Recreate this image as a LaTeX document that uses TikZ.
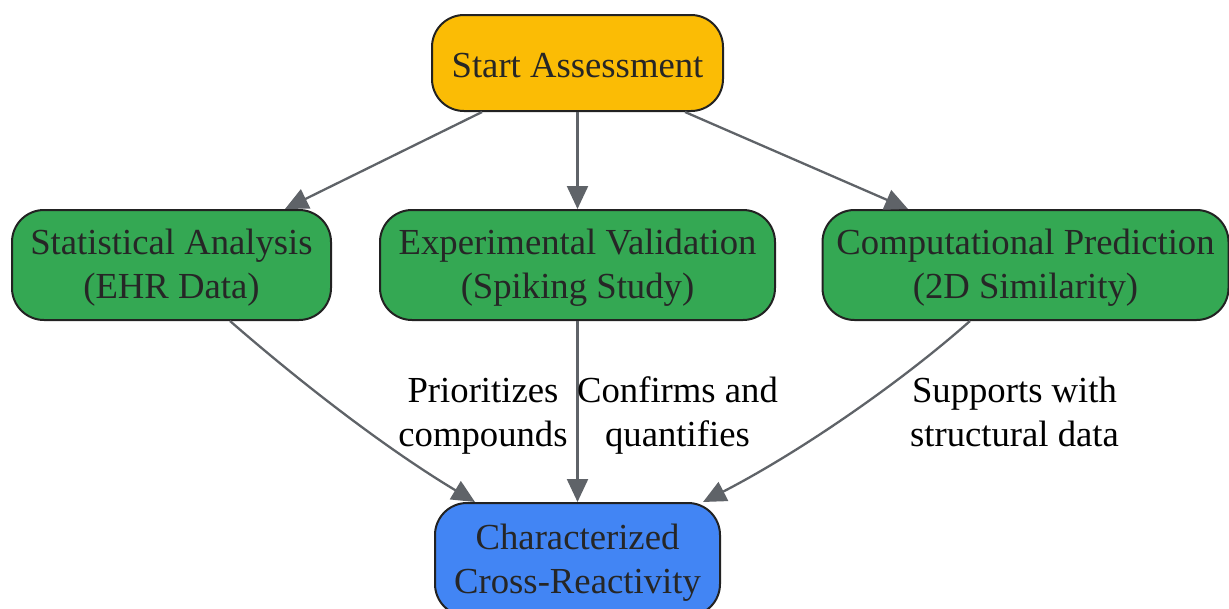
\documentclass[tikz,border=0pt]{standalone}
\usepackage{fontspec}
\setmainfont{Liberation Serif}
\usetikzlibrary{arrows.meta}
\definecolor{gyellow}{HTML}{FBBC05}
\definecolor{ggreen}{HTML}{34A853}
\definecolor{gblue}{HTML}{4285F4}
\definecolor{edgegray}{HTML}{5F6368}
\definecolor{bordergray}{HTML}{222222}
\definecolor{txtgray}{HTML}{262626}
\tikzset{
  box/.style={draw=bordergray, line width=2pt, rounded corners=32pt, inner sep=0pt},
  boxtext/.style={align=center, text=txtgray, font=\fontsize{36.7}{44}\selectfont, inner sep=0pt, yshift=-3pt},
  conn/.style={draw=edgegray, line width=2.3pt, -{Triangle[length=23pt,width=21pt]}},
  lbl/.style={align=center, font=\fontsize{36.7}{44}\selectfont, text=black, inner sep=0pt}
}
\begin{document}
\begin{tikzpicture}[x=1pt,y=-1pt]
\useasboundingbox (0,0) rectangle (1229,608);
\begin{scope}
\clip (0,0) rectangle (1229,608);
\node[box, fill=gyellow, minimum width=291pt, minimum height=96pt,
  label={[boxtext]center:Start Assessment}] (start) at (577.5,63) {};
\node[box, fill=ggreen, minimum width=319pt, minimum height=110pt,
  label={[boxtext]center:Statistical Analysis\\(EHR Data)}] (stat) at (171.5,265) {};
\node[box, fill=ggreen, minimum width=395pt, minimum height=110pt,
  label={[boxtext]center:Experimental Validation\\(Spiking Study)}] (exp) at (577.5,265) {};
\node[box, fill=ggreen, minimum width=406pt, minimum height=110pt,
  label={[boxtext]center:Computational Prediction\\(2D Similarity)}] (comp) at (1025.5,265) {};
\node[box, fill=gblue, minimum width=285pt, minimum height=113pt,
  label={[boxtext]center:Characterized\\Cross-Reactivity}] (char) at (577.5,559.5) {};

\draw[conn] ([xshift=-95.5pt]start.south) -- ([xshift=113.5pt]stat.north);
\draw[conn] (start.south) -- (exp.north);
\draw[conn] ([xshift=107.5pt]start.south) -- ([xshift=-117.5pt]comp.north);
\draw[conn] ([xshift=58.5pt]stat.south) .. controls (300,382) and (385,448) .. ([xshift=-102.5pt]char.north);
\draw[conn] (exp.south) -- (char.north);
\draw[conn] ([xshift=-55.5pt]comp.south) .. controls (900,383) and (800,452) .. ([xshift=125.5pt]char.north);

\node[lbl] (l1) at (483,416) {\strut Prioritizes\\compounds\strut};
\node[lbl] (l2) at (677.5,416) {\strut Confirms and\\quantifies\strut};
\node[lbl] (l3) at (1014.5,416) {\strut Supports with\\structural data\strut};
\end{scope}
\end{tikzpicture}
\end{document}
